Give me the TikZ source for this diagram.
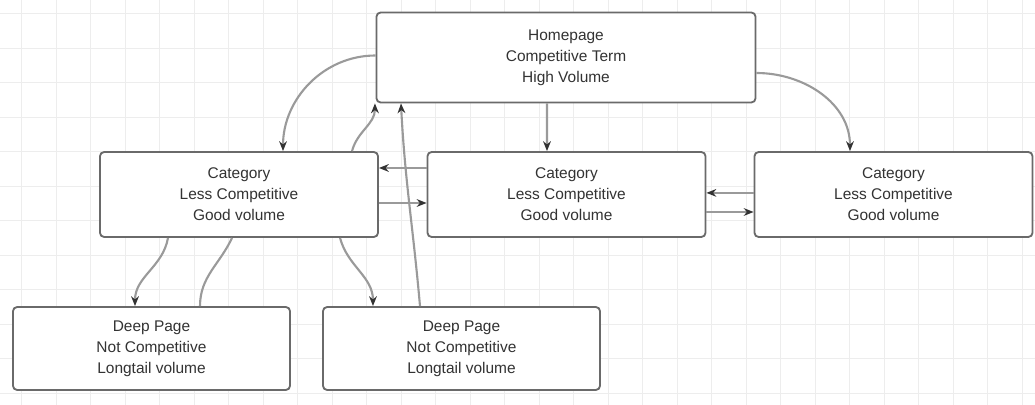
\documentclass[tikz,border=0pt]{standalone}
\usepackage{fontspec}
\setmainfont{Liberation Sans}
\usetikzlibrary{arrows.meta}
\definecolor{boxline}{HTML}{6A6A6A}
\definecolor{linec}{HTML}{9A9A9A}
\definecolor{textc}{HTML}{333333}
\definecolor{gridc}{HTML}{EDEDED}
\tikzset{
  box/.style={draw=boxline, line width=1.3pt, rounded corners=3pt, fill=white, align=center,
    font=\fontsize{11}{15}\selectfont, text=textc, inner sep=0pt},
  topbox/.style={box, minimum width=9.475cm, minimum height=2.25cm},
  catbox/.style={box, minimum width=6.95cm, minimum height=2.125cm},
  deepbox/.style={box, minimum width=6.925cm, minimum height=2.075cm},
  conn/.style={draw=linec, line width=1.5pt, -{Stealth[length=7pt,width=5.5pt,color=black!80]}},
  plainconn/.style={draw=linec, line width=1.5pt},
  gridline/.style={draw=gridc, line width=0.6pt}
}
\begin{document}
\begin{tikzpicture}[x=0.025cm,y=-0.025cm]
\useasboundingbox (0,0) rectangle (1035,405);
\fill[white] (0,0) rectangle (1035,405);
\foreach \i in {0,...,29} \draw[gridline] (21.8+34.5*\i,0) -- ++(0,405);
\foreach \j in {0,...,11} \draw[gridline] (0,13.5+34.5*\j) -- ++(1035,0);

\node[topbox] (top) at (566,57.5) {Homepage\\Competitive Term\\High Volume};
\node[catbox] (lcat) at (239,194.5) {Category\\Less Competitive\\Good volume};
\node[catbox] (mcat) at (566.5,194.5) {Category\\Less Competitive\\Good volume};
\node[catbox] (rcat) at (893.5,194.5) {Category\\Less Competitive\\Good volume};
\node[deepbox] (deep1) at (151.5,348.5) {Deep Page\\Not Competitive\\Longtail volume};
\node[deepbox] (deep2) at (461.5,348.5) {Deep Page\\Not Competitive\\Longtail volume};

% homepage -> categories
\draw[conn] ([yshift=0.05cm]top.west) to[out=180,in=90] ([xshift=1.1cm]lcat.north);
\draw[conn] ([xshift=-0.475cm]top.south) -- ([xshift=-0.4875cm]mcat.north);
\draw[conn] ([yshift=-0.3875cm]top.east) to[out=0,in=90] ([xshift=-1.0875cm]rcat.north);
% categories -> homepage
\draw[conn] ([xshift=2.825cm]lcat.north) to[out=75,in=-90] ([xshift=-4.775cm]top.south);
\draw[conn] ([xshift=-1.0375cm]deep2.north) to[out=95,in=-87] ([xshift=-4.125cm]top.south);
% between categories
\draw[conn] ([yshift=0.6625cm]mcat.west) -- ([yshift=0.6625cm]lcat.east);
\draw[conn] ([yshift=-0.2125cm]lcat.east) -- ([yshift=-0.2125cm]mcat.west);
\draw[conn] ([yshift=0.04cm]rcat.west) -- ([yshift=0.04cm]mcat.east);
\draw[conn] ([yshift=-0.4375cm]mcat.east) -- ([yshift=-0.4375cm]rcat.west);
% categories -> deep pages
\draw[conn] ([xshift=-1.775cm]lcat.south) to[out=-100,in=90] ([xshift=-0.4125cm]deep1.north);
\draw[plainconn] ([xshift=-0.175cm]lcat.south) to[out=-115,in=90] ([xshift=1.2125cm]deep1.north);
\draw[conn] ([xshift=2.525cm]lcat.south) to[out=-75,in=90] ([xshift=-2.2125cm]deep2.north);
\end{tikzpicture}
\end{document}
